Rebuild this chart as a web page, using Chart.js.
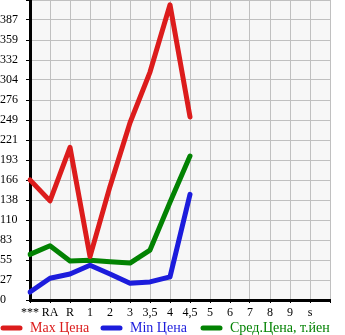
<!DOCTYPE html>
<html>
<head>
<meta charset="utf-8">
<script src="https://cdn.jsdelivr.net/npm/chart.js@4/dist/chart.umd.min.js"></script>
<style>
  html, body { margin: 0; padding: 0; background: #fff; }
  #wrap { width: 345px; height: 335px; }
</style>
</head>
<body>
<div id="wrap"><canvas id="price-chart"></canvas></div>
<script>
'use strict';

var categories = ['***', 'RA', 'R', '1', '2', '3', '3,5', '4', '4,5', '5', '6', '7', '8', '9', 's', ''];
var maxPrice = [166, 137, 211, 60, 157, 245, 315, 408, 253, null, null, null, null, null, null, null];
var minPrice = [11, 30, 36, 48, 36, 23, 25, 32, 146, null, null, null, null, null, null, null];
var avgPrice = [63, 75, 54, 55, 53, 51, 69, 135, 199, null, null, null, null, null, null, null];
var yTickLabels = ['0', '27', '55', '83', '110', '138', '166', '193', '221', '249', '276', '304', '332', '359', '387', ''];
var seriesNames = ['Max Цена', 'Min Цена', 'Сред.Цена, т.йен'];
var seriesColors = ['#dc1c1c', '#1c1cdc', '#028202'];

var yStep = 27.64;
var fontFamily = '"Liberation Serif", "DejaVu Serif", serif';

// grey plot background
var plotBackground = {
	id: 'plotBackground',
	beforeDraw: function(chart) {
		var a = chart.chartArea, ctx = chart.ctx;
		ctx.save();
		ctx.fillStyle = '#f7f7f7';
		ctx.fillRect(a.left, a.top, a.right - a.left, a.bottom - a.top);
		ctx.restore();
	}
};

// legend row under the axis
var bottomLegend = {
	id: 'bottomLegend',
	afterDraw: function(chart) {
		var ctx = chart.ctx;
		var y = 328;
		ctx.save();
		ctx.font = '14px ' + fontFamily;
		ctx.textBaseline = 'middle';
		chart.data.datasets.forEach(function(ds, i) {
			var x0 = i * 100;
			ctx.strokeStyle = ds.borderColor;
			ctx.lineWidth = 5;
			ctx.lineCap = 'round';
			ctx.beginPath();
			ctx.moveTo(x0 + 3, y);
			ctx.lineTo(x0 + 20, y);
			ctx.stroke();
			ctx.fillStyle = ds.borderColor;
			ctx.fillText(ds.label, x0 + 30, y);
		});
		ctx.restore();
	}
};

function makeSet(name, data, color) {
	return {
		label: name,
		data: data,
		borderColor: color,
		backgroundColor: color,
		borderWidth: 5,
		borderCapStyle: 'round',
		borderJoinStyle: 'round',
		pointRadius: 0,
		pointHoverRadius: 0,
		tension: 0,
		fill: false
	};
}

var config = {
	type: 'line',
	data: {
		labels: categories,
		datasets: [
			makeSet(seriesNames[0], maxPrice, seriesColors[0]),
			makeSet(seriesNames[1], minPrice, seriesColors[1]),
			makeSet(seriesNames[2], avgPrice, seriesColors[2])
		]
	},
	options: {
		responsive: true,
		maintainAspectRatio: false,
		animation: false,
		layout: { padding: { top: 0, right: 15, bottom: 16, left: 0 } },
		plugins: {
			legend: { display: false },
			tooltip: { enabled: false }
		},
		scales: {
			x: {
				offset: false,
				grid: { color: '#c0c0c0', lineWidth: 1, tickColor: '#000', tickLength: 3 },
				border: { color: '#000', width: 3 },
				ticks: {
					color: '#000',
					font: { family: fontFamily, size: 12 },
					padding: 3,
					maxRotation: 0,
					autoSkip: false
				},
				afterFit: function(scale) { scale.height = 19; }
			},
			y: {
				min: 0,
				max: yStep * 15,
				grid: { color: '#c0c0c0', lineWidth: 1, tickColor: '#000', tickLength: 4 },
				border: { color: '#000', width: 3 },
				ticks: {
					color: '#000',
					crossAlign: 'far',
					padding: 2,
					font: { family: fontFamily, size: 12 },
					callback: function(value, index) { return yTickLabels[index]; }
				},
				afterBuildTicks: function(scale) {
					scale.ticks = yTickLabels.map(function(t, i) { return { value: i * yStep }; });
				},
				afterFit: function(scale) {
					scale.width = 30;
					scale.paddingTop = 0;
					scale.paddingBottom = 0;
				}
			}
		}
	},
	plugins: [plotBackground, bottomLegend]
};

var ctx = document.getElementById('price-chart').getContext('2d');
var priceChart = new Chart(ctx, config);
</script>
</body>
</html>
